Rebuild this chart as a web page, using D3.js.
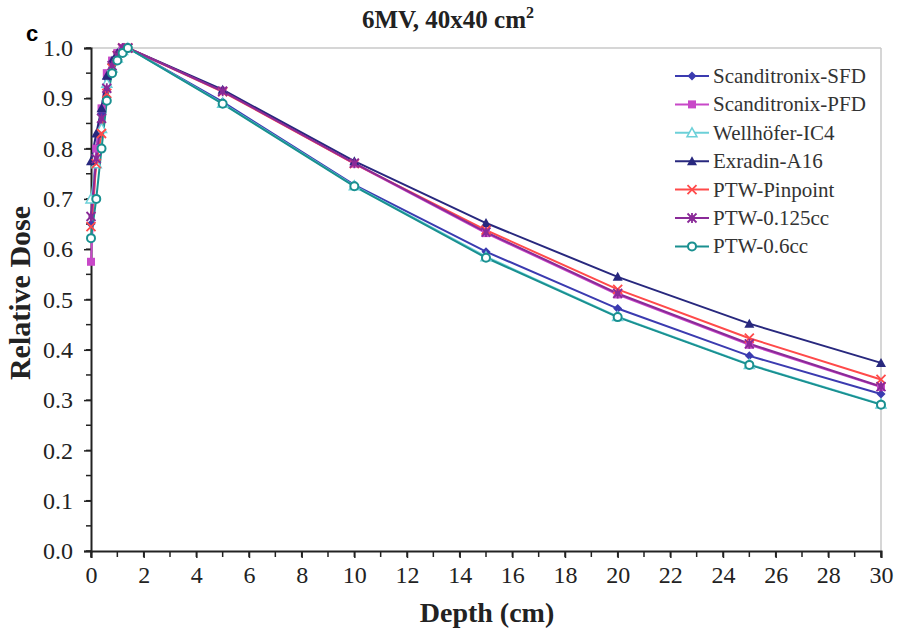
<!DOCTYPE html>
<html>
<head>
<meta charset="utf-8">
<script src="https://cdn.jsdelivr.net/npm/d3@7"></script>
<style>
  body { margin: 0; background: #fff; }
  svg { display: block; }
</style>
</head>
<body>
<div id="chart"></div>
<script>
// depths (cm) for build-up and tail
var depths = [0, 0.2, 0.4, 0.6, 0.8, 1.0, 1.2, 1.4, 5, 10, 15, 20, 25, 30];

var names = ["Scanditronix-SFD", "Scanditronix-PFD", "Wellhöfer-IC4", "Exradin-A16",
             "PTW-Pinpoint", "PTW-0.125cc", "PTW-0.6cc"];

var sfd      = [0.650, 0.800, 0.870, 0.940, 0.970, 0.990, 1.000, 1.000, 0.893, 0.728, 0.595, 0.482, 0.388, 0.312];
var pfd      = [0.575, 0.800, 0.880, 0.950, 0.975, 0.990, 1.000, 1.000, 0.915, 0.770, 0.632, 0.510, 0.410, 0.326];
var ic4      = [0.700, 0.770, 0.840, 0.930, 0.960, 0.980, 0.995, 1.000, 0.890, 0.726, 0.585, 0.466, 0.371, 0.292];
var exradin  = [0.775, 0.830, 0.880, 0.945, 0.975, 0.990, 1.000, 1.000, 0.917, 0.775, 0.652, 0.545, 0.452, 0.374];
var pinpoint = [0.645, 0.770, 0.830, 0.910, 0.960, 0.985, 1.000, 1.000, 0.913, 0.770, 0.638, 0.520, 0.423, 0.341];
var cc0125   = [0.665, 0.780, 0.860, 0.920, 0.965, 0.985, 1.000, 1.000, 0.914, 0.771, 0.634, 0.512, 0.412, 0.327];
var cc06     = [0.622, 0.700, 0.800, 0.895, 0.950, 0.975, 0.990, 1.000, 0.889, 0.725, 0.583, 0.465, 0.370, 0.291];

var xTicks = [0, 2, 4, 6, 8, 10, 12, 14, 16, 18, 20, 22, 24, 26, 28, 30];
var yTicks = [0, 0.1, 0.2, 0.3, 0.4, 0.5, 0.6, 0.7, 0.8, 0.9, 1.0];

var seriesVals = [sfd, pfd, ic4, exradin, pinpoint, cc0125, cc06];
var colors = ["#3b3bb0", "#c848c8", "#6cd0d8", "#28287e", "#ff4a4a", "#8a2a98", "#1a9090"];
var symbols = ["diamond", "square", "triangleOpen", "triangle", "cross", "star", "circleOpen"];

var serif = "'Liberation Serif', 'Times New Roman', serif";

var width = 898, height = 633;
var margin = {top: 48, right: 17, bottom: 82, left: 91};
var w = width - margin.left - margin.right,
    h = height - margin.top - margin.bottom;

var svg = d3.select("#chart").append("svg")
    .attr("width", width).attr("height", height);

var g = svg.append("g").attr("transform", "translate(" + [margin.left, margin.top] + ")");

var x = d3.scaleLinear().domain([0, 30]).range([0, w]);
var y = d3.scaleLinear().domain([0, 1]).range([h, 0]);

// frame (gray top & right)
g.append("line").attr("x1", 0).attr("x2", w).attr("y1", 0).attr("y2", 0)
  .attr("stroke", "#c8c8c8").attr("stroke-width", 1.5);
g.append("line").attr("x1", w).attr("x2", w).attr("y1", 0).attr("y2", h)
  .attr("stroke", "#c8c8c8").attr("stroke-width", 1.5);

// minor ticks
g.append("g").selectAll("line").data(d3.range(0, 1.0001, 0.05)).enter()
  .append("line").attr("x1", -5).attr("x2", 0)
  .attr("y1", function(d){ return y(d); }).attr("y2", function(d){ return y(d); })
  .attr("stroke", "#222").attr("stroke-width", 1.5);
g.append("g").selectAll("line").data(d3.range(0, 31, 1)).enter()
  .append("line").attr("y1", h).attr("y2", h + 6)
  .attr("x1", function(d){ return x(d); }).attr("x2", function(d){ return x(d); })
  .attr("stroke", "#222").attr("stroke-width", 1.5);

var yAxis = g.append("g")
  .call(d3.axisLeft(y).tickValues(yTicks).tickFormat(d3.format(".1f")).tickSize(7).tickPadding(11));
var xAxis = g.append("g").attr("transform", "translate(0," + h + ")")
  .call(d3.axisBottom(x).tickValues(xTicks).tickFormat(d3.format("d")).tickSize(7).tickPadding(8));
[xAxis, yAxis].forEach(function(a){
  a.attr("font-family", serif).attr("font-size", 24);
  a.select(".domain").attr("stroke", "#222").attr("stroke-width", 2);
  a.selectAll(".tick line").attr("stroke", "#222").attr("stroke-width", 1.5);
  a.selectAll(".tick text").attr("fill", "#222")
    .style("font-family", serif).style("font-size", "24px");
});

var line = d3.line()
  .x(function(d){ return x(d[0]); })
  .y(function(d){ return y(d[1]); });

function drawMarker(sel, type, color) {
  if (type === "diamond") {
    sel.append("path").attr("d", "M0,-4.5L4.5,0L0,4.5L-4.5,0Z").attr("fill", color);
  } else if (type === "square") {
    sel.append("rect").attr("x", -4).attr("y", -4).attr("width", 8).attr("height", 8).attr("fill", color);
  } else if (type === "triangleOpen") {
    sel.append("path").attr("d", "M0,-5L5,4L-5,4Z").attr("fill", "#fff")
      .attr("stroke", color).attr("stroke-width", 1.5);
  } else if (type === "triangle") {
    sel.append("path").attr("d", "M0,-5L5,4L-5,4Z").attr("fill", color);
  } else if (type === "cross") {
    sel.append("path").attr("d", "M-4.5,-4.5L4.5,4.5M-4.5,4.5L4.5,-4.5").attr("stroke", color).attr("stroke-width", 1.8);
  } else if (type === "star") {
    sel.append("path").attr("d", "M-4.5,-4.5L4.5,4.5M-4.5,4.5L4.5,-4.5M0,-5L0,5").attr("stroke", color).attr("stroke-width", 1.8);
    sel.append("rect").attr("x", -2.5).attr("y", -2.5).attr("width", 5).attr("height", 5).attr("fill", color);
  } else if (type === "circleOpen") {
    sel.append("circle").attr("r", 4).attr("fill", "#fff").attr("stroke", color).attr("stroke-width", 2);
  }
}

var plot = g.append("g");
seriesVals.forEach(function(vals, i){
  var pts = depths.map(function(d, j){ return [d, vals[j]]; });
  plot.append("path").datum(pts)
    .attr("fill", "none").attr("stroke", colors[i]).attr("stroke-width", 2).attr("d", line);
});
seriesVals.forEach(function(vals, i){
  var pts = depths.map(function(d, j){ return [d, vals[j]]; });
  plot.selectAll(null).data(pts).enter().append("g")
    .attr("transform", function(d){ return "translate(" + [x(d[0]), y(d[1])] + ")"; })
    .each(function(){ drawMarker(d3.select(this), symbols[i], colors[i]); });
});

// legend
var legend = svg.append("g").attr("transform", "translate(675,76)");
names.forEach(function(n, i){
  var lg = legend.append("g").attr("transform", "translate(0," + (i * 28.4) + ")");
  lg.append("line").attr("x1", 0).attr("x2", 34).attr("stroke", colors[i]).attr("stroke-width", 2);
  var m = lg.append("g").attr("transform", "translate(17,0)");
  drawMarker(m, symbols[i], colors[i]);
  lg.append("text").attr("x", 38).attr("y", 7)
    .style("font-family", serif).style("font-size", "21px").style("fill", "#333")
    .text(n);
});

// title
var title = svg.append("text").attr("x", 448).attr("y", 28).attr("text-anchor", "middle")
  .style("font-family", serif).style("font-size", "25px").style("font-weight", "bold").style("fill", "#222");
title.append("tspan").text("6MV, 40x40 cm");
title.append("tspan").attr("dy", -10).style("font-size", "16px").text("2");

svg.append("text").attr("x", 26).attr("y", 41)
  .style("font-family", "'Liberation Sans', Arial, sans-serif").style("font-size", "22px").style("font-weight", "bold")
  .text("c");

svg.append("text").attr("transform", "translate(30," + 293 + ") rotate(-90)")
  .attr("text-anchor", "middle")
  .style("font-family", serif).style("font-size", "30px").style("font-weight", "bold").style("fill", "#222")
  .text("Relative Dose");

svg.append("text").attr("x", 487).attr("y", 622).attr("text-anchor", "middle")
  .style("font-family", serif).style("font-size", "28px").style("font-weight", "bold").style("fill", "#222")
  .text("Depth (cm)");
</script>
</body>
</html>
